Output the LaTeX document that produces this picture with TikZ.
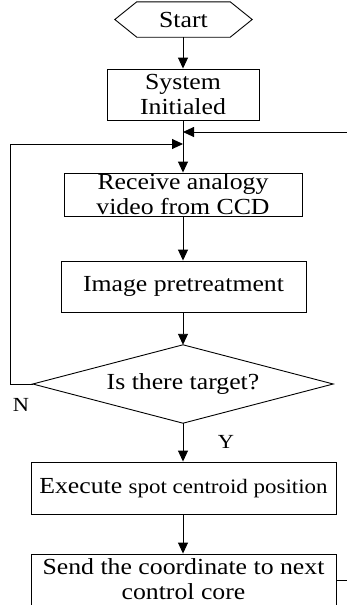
\documentclass[tikz,border=0pt]{standalone}
\usepackage{fontspec}
\setmainfont{Liberation Serif}[FakeStretch=1.12]
\usetikzlibrary{arrows.meta,calc}
\begin{document}
\begin{tikzpicture}[x=1pt,y=-1pt,
  box/.style={draw, line width=0.9pt, inner sep=0pt, align=center, font=\fontsize{23}{25}\selectfont},
  plain/.style={inner sep=0pt, align=center, font=\fontsize{23}{25}\selectfont},
  lbl/.style={inner sep=0pt, font=\fontsize{20}{22}\selectfont},
  arr/.style={line width=0.9pt, -{Triangle[length=11pt,width=10pt]}},
  ln/.style={line width=0.9pt}]
\useasboundingbox (0,0) rectangle (347,605);
\fill[white] (0,0) rectangle (347,605);
\clip (0,0) rectangle (347,605);
% nodes
\node[plain, minimum width=93, minimum height=35] (start) at (183.5,19.5) {Start};
\draw[ln] (start.north west) -- (start.north east) -- ($(start.east)+(22,0)$) -- (start.south east)
  -- (start.south west) -- ($(start.west)+(-22,0)$) -- cycle;
\node[box, minimum width=152, minimum height=51] (sys) at (183,94.5) {System\\Initialed};
\node[box, minimum width=238, minimum height=43] (recv) at (183,194.5) {Receive analogy\\video from CCD};
\node[box, minimum width=245, minimum height=51] (img) at (183.5,286.5) {Image pretreatment};
\node[plain, minimum width=300, minimum height=78] (dia) at (183,384) {Is there target?};
\draw[ln] (dia.north) -- (dia.east) -- (dia.south) -- (dia.west) -- cycle;
\node[box, minimum width=305, minimum height=52] (exe) at (183.5,488)
  {Execute {\fontsize{20.5}{22}\selectfont spot centroid position}};
\node[draw, line width=0.9pt, minimum width=305, minimum height=58] (send) at (183.5,583) {};
\node[plain] (sendtxt) at (183.5,579) {Send the coordinate to next\\control core};
% junction coordinates
\coordinate (jr) at (183,132);
\coordinate (jl) at (183,144);
\coordinate (rin) at (348,132);
\coordinate (lx) at (10,384);
\coordinate (rout) at (348,580);
% connectors
\draw[arr] (start.south -| sys.north) -- (sys.north);
\draw[arr] (sys.south) -- (recv.north);
\draw[arr] (rin) -- (jr);
\draw[arr] (dia.west) -- (lx) -- (lx |- jl) -- (jl);
\draw[arr] (recv.south) -- (recv.south |- img.north);
\draw[arr] (img.south -| dia.north) -- (dia.north);
\draw[arr] (dia.south) -- (dia.south |- exe.north);
\draw[arr] (exe.south -| dia.south) -- (dia.south |- send.north);
\draw[ln] (send.east |- rout) -- (rout);
% labels
\node[lbl] (nlab) at (21,405) {N};
\node[lbl] (ylab) at (226,442) {Y};
\end{tikzpicture}
\end{document}
